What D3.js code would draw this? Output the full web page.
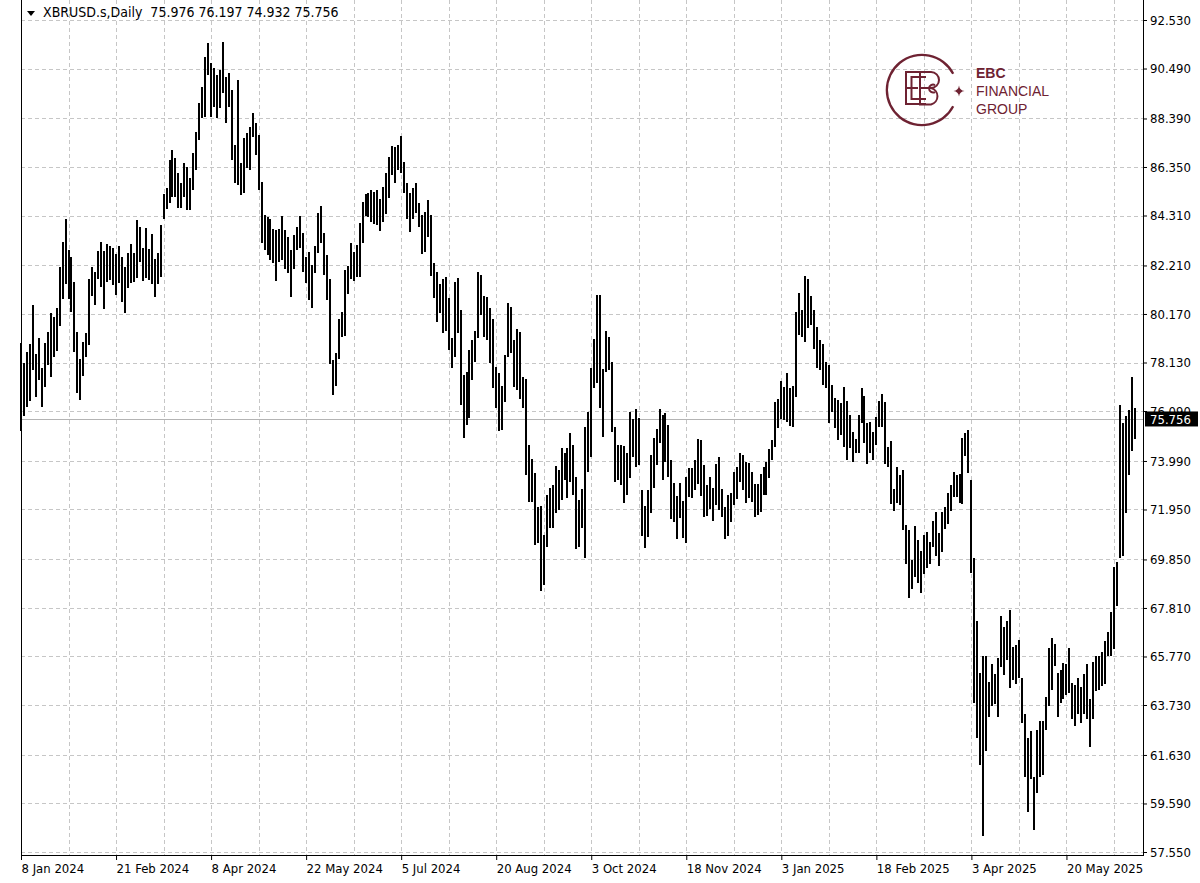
<!DOCTYPE html>
<html><head><meta charset="utf-8">
<script src="https://cdn.jsdelivr.net/npm/d3@7"></script>
<style>
html,body{margin:0;padding:0;background:#fff;}
svg{display:block;}
</style></head><body>
<svg id="chart" width="1200" height="883"></svg>
<script>
const symbolName = "XBRUSD.s,Daily";
const lastOHLC = ["75.976", "76.197", "74.932", "75.756"];
const lastClose = 75.756;

const highs = [
78.94,78.12,78.59,78.91,80.55,78.49,79.18,77.91,78.97,79.40,
80.20,80.06,80.41,82.16,83.21,84.15,82.86,82.58,81.53,79.43,
78.29,78.98,79.36,81.64,82.16,81.95,82.83,83.21,82.83,83.10,
83.03,82.96,82.69,83.03,82.58,82.16,82.72,83.10,82.72,84.12,
83.81,82.93,83.77,82.89,83.52,82.47,82.72,83.90,85.20,85.45,
86.64,87.07,86.71,86.08,85.66,86.50,86.36,85.87,86.93,87.84,
89.06,89.73,90.99,91.55,90.71,90.50,90.22,90.43,91.62,90.15,
90.29,89.59,87.28,90.01,86.50,87.56,87.77,88.05,88.63,88.19,
87.70,85.73,84.33,84.26,84.15,83.73,83.70,83.73,84.29,83.70,
83.39,82.86,83.49,83.81,84.30,83.59,82.55,82.79,82.23,83.03,
84.43,84.71,83.59,82.65,81.64,78.24,78.54,79.97,80.27,82.02,
82.19,83.14,82.79,83.07,84.01,84.89,85.22,85.27,85.38,85.31,
85.38,85.00,85.50,86.09,86.76,87.23,87.20,87.27,87.65,86.57,
85.66,85.24,85.45,85.69,84.85,84.33,84.47,84.96,84.33,82.30,
81.95,81.43,81.63,81.71,80.83,79.15,81.53,81.70,80.34,77.61,
77.75,78.66,79.08,79.47,81.95,81.81,80.94,80.90,80.41,79.95,
77.96,77.68,77.16,78.45,80.62,80.48,79.08,79.54,79.43,77.54,
77.43,74.67,74.06,73.47,72.07,72.10,70.88,72.56,72.84,72.98,
73.78,73.61,74.55,74.31,74.52,75.15,74.67,73.30,72.35,72.80,
75.43,76.06,77.89,79.10,80.97,80.97,77.84,79.47,79.22,78.17,
75.43,74.66,74.66,74.62,74.31,76.06,75.74,76.16,75.78,72.77,
72.10,72.77,74.24,74.94,75.32,76.16,75.92,75.99,75.50,74.03,
73.05,72.52,73.05,72.32,73.30,73.68,73.68,74.03,74.91,74.87,
73.82,72.98,73.30,72.84,73.86,74.17,72.80,72.07,72.56,72.63,
73.54,73.75,74.34,74.24,73.96,73.92,73.54,73.02,73.02,73.44,
73.75,73.96,74.48,74.87,76.48,76.58,77.37,77.09,77.68,77.04,
77.14,80.27,81.04,80.34,81.78,81.64,80.93,80.34,79.64,79.08,
78.91,78.17,78.03,77.19,76.62,76.55,76.41,77.12,76.53,75.92,
75.22,74.90,75.92,77.04,76.72,75.59,75.62,75.20,75.82,76.52,
76.80,76.45,74.58,74.81,72.82,73.72,73.41,73.60,71.31,71.07,
69.83,71.26,70.68,70.22,70.89,71.00,70.58,71.46,71.85,70.95,
71.85,72.04,72.66,72.97,73.53,73.38,73.44,74.97,75.15,75.28,
73.18,69.91,67.26,65.08,65.78,65.81,64.69,65.47,65.03,65.70,
67.46,67.03,67.26,67.73,66.17,66.25,66.48,64.85,63.37,62.35,
62.63,60.72,62.70,63.06,63.06,64.07,66.12,66.56,66.28,65.08,
65.19,65.50,65.47,66.12,64.66,64.57,64.88,64.50,65.03,65.44,
63.99,65.55,65.78,65.81,65.97,66.43,66.79,67.62,69.55,69.75,
76.34,75.59,75.90,76.13,77.54,76.197
];

const lows = [
75.23,75.88,76.27,76.51,77.82,76.70,77.40,76.27,77.09,78.03,
77.54,78.38,78.63,79.68,80.79,81.43,80.80,80.27,78.59,76.84,
76.56,77.58,78.38,78.87,80.94,80.55,81.64,81.32,80.37,81.53,
81.60,81.39,80.97,81.46,80.69,80.20,81.25,81.46,81.53,81.67,
82.37,81.56,81.67,81.60,81.43,80.87,81.43,81.74,84.15,84.60,
84.82,85.10,85.10,84.61,84.61,85.10,84.54,84.54,85.38,86.22,
87.49,88.40,88.47,90.22,88.47,88.89,88.40,88.82,89.45,88.19,
88.89,86.64,85.66,85.59,85.17,85.24,86.29,86.22,87.63,86.86,
85.38,83.14,82.86,82.65,82.44,82.30,81.57,82.37,82.44,82.05,
81.88,80.90,82.05,82.86,82.93,81.92,81.46,80.76,80.44,81.88,
82.75,83.14,81.81,80.76,78.05,76.77,77.14,78.27,79.19,79.25,
81.01,81.63,81.57,81.71,81.74,83.17,84.29,84.26,84.05,83.95,
83.91,83.67,84.05,84.37,85.03,86.01,85.66,86.22,86.09,85.24,
84.15,83.63,84.15,84.40,83.84,82.69,82.79,83.42,81.77,80.83,
79.82,80.20,79.36,79.47,78.66,77.89,78.38,79.36,76.35,74.94,
75.50,75.79,77.40,78.17,79.15,80.13,79.22,79.08,78.10,77.05,
76.21,75.23,75.30,76.45,78.38,78.52,77.12,76.98,76.59,76.21,
73.41,72.28,72.28,70.46,70.53,68.54,68.78,70.36,71.16,71.16,
71.79,71.93,72.35,73.19,72.42,73.12,72.56,70.29,70.39,71.16,
69.90,73.54,74.17,77.04,77.26,76.20,75.01,77.75,77.82,75.22,
73.12,73.19,72.98,72.21,72.56,73.26,74.17,73.72,73.82,70.84,
70.32,70.81,71.79,72.84,73.82,74.76,73.19,73.96,73.33,71.54,
71.44,70.70,71.58,70.74,70.53,72.46,72.42,72.77,73.02,72.52,
71.65,71.68,71.96,71.48,72.14,71.93,71.65,70.73,70.84,71.44,
72.14,72.38,73.12,72.77,72.24,72.42,72.28,71.65,71.72,71.86,
72.56,72.56,73.26,74.03,74.59,75.36,75.74,75.71,75.64,75.46,
75.43,76.69,79.29,79.19,79.01,79.57,79.71,78.68,77.89,77.82,
77.19,77.04,75.57,76.06,75.36,74.87,75.08,74.59,74.03,74.52,
73.96,74.31,74.31,75.57,74.76,73.88,74.34,74.03,74.65,75.43,
75.43,73.88,73.75,72.19,71.88,72.24,72.16,71.07,69.64,68.24,
68.61,69.13,68.86,68.43,69.24,69.49,69.64,70.37,69.98,69.59,
70.17,71.11,71.35,71.88,72.48,72.48,72.24,72.19,74.22,73.49,
69.28,63.83,62.35,61.19,58.23,61.81,63.21,63.68,63.76,63.21,
65.31,65.00,65.62,64.46,64.77,64.61,64.85,62.98,60.72,59.24,
60.64,58.46,60.02,60.72,60.80,62.67,63.68,64.38,65.39,63.21,
63.83,63.99,64.15,64.22,63.13,62.85,63.37,62.98,63.37,63.13,
61.96,63.13,64.30,64.38,64.53,64.61,65.78,65.81,66.09,67.88,
69.91,69.98,71.82,73.38,74.42,74.932
];

const yTicks = [92.53, 90.49, 88.39, 86.35, 84.31, 82.21, 80.17, 78.13, 76.09, 73.99,
                71.95, 69.85, 67.81, 65.77, 63.73, 61.63, 59.59, 57.55];
const xLabels = ["8 Jan 2024", "21 Feb 2024", "8 Apr 2024", "22 May 2024", "5 Jul 2024",
                 "20 Aug 2024", "3 Oct 2024", "18 Nov 2024", "3 Jan 2025", "18 Feb 2025",
                 "3 Apr 2025", "20 May 2025"];
const xLabelBars = [0, 32, 64, 96, 128, 160, 192, 224, 256, 288, 320, 352];
const logoLines = ["EBC", "FINANCIAL", "GROUP"];

const FONT = "'DejaVu Sans Condensed','DejaVu Sans',sans-serif";
const svg = d3.select("#chart");
const plotL = 21, plotR = 1143, plotT = 0, plotB = 855;
const n = highs.length;
const x = d3.scaleLinear().domain([0, n - 1]).range([21, 21 + (n - 1) * 2.97]);
const y = d3.scaleLinear().domain([57.55, 92.53]).range([852, 20]);
const py = y(lastClose);

// grid
const grid = svg.append("g").attr("shape-rendering", "crispEdges");
grid.selectAll("line.h").data(yTicks).join("line").attr("class", "h")
  .attr("x1", plotL).attr("x2", plotR)
  .attr("y1", d => Math.round(y(d)) + 0.5).attr("y2", d => Math.round(y(d)) + 0.5)
  .attr("stroke", "#c6c6c6").attr("stroke-dasharray", "4,3");
grid.selectAll("line.v").data(d3.range(16, n, 16)).join("line").attr("class", "v")
  .attr("x1", d => Math.round(x(d)) + 0.5).attr("x2", d => Math.round(x(d)) + 0.5)
  .attr("y1", plotT).attr("y2", plotB)
  .attr("stroke", "#c6c6c6").attr("stroke-dasharray", "4,3");

// current price line
svg.append("line").attr("shape-rendering", "crispEdges")
  .attr("x1", plotL).attr("x2", plotR)
  .attr("y1", Math.round(py) + 0.5).attr("y2", Math.round(py) + 0.5)
  .attr("stroke", "#b4b4b4");

// logo
const logo = svg.append("g").attr("fill", "none").attr("stroke", "#6e2232");
const arc = d3.arc();
logo.append("path").attr("transform", "translate(922,90)").attr("fill", "#6e2232").attr("stroke", "none")
  .attr("d", arc({innerRadius: 34, outerRadius: 36.3, startAngle: Math.PI / 2 + 0.48, endAngle: Math.PI / 2 - 0.48 + 2 * Math.PI}));
logo.append("path").attr("stroke-width", 2)
  .attr("d", "M926,72 H906 V104 H926 M926,77 H911.5 V99 H926 M906,88 H918");
logo.append("path").attr("stroke-width", 2)
  .attr("d", "M920,72 H931 A8,8 0 0 1 931,88 A8.5,8.5 0 0 1 931,104.5 H920 Z M920,88 H931 M935,85 A4,4 0 1 0 935,92");
logo.append("path").attr("fill", "#6e2232").attr("stroke", "none")
  .attr("d", "M959,85.5 Q959.6,90.4 964.5,91 Q959.6,91.6 959,96.5 Q958.4,91.6 953.5,91 Q958.4,90.4 959,85.5 Z");
logo.selectAll("text").data(logoLines).join("text")
  .attr("x", 976).attr("y", (d, i) => 78 + i * 18)
  .attr("fill", "#6e2232").attr("stroke", "none")
  .attr("font-family", "'Liberation Sans',Arial,sans-serif")
  .attr("font-size", 14)
  .attr("font-weight", (d, i) => i === 0 ? "bold" : "normal")
  .text(d => d);

// bars
svg.append("g").attr("shape-rendering", "crispEdges")
  .selectAll("rect").data(d3.range(n)).join("rect")
  .attr("x", i => Math.round(x(i)) - 1)
  .attr("width", 2)
  .attr("y", i => y(highs[i]))
  .attr("height", i => Math.max(1, y(lows[i]) - y(highs[i])))
  .attr("fill", "#000");

// frame
const frame = svg.append("g").attr("stroke", "#000").attr("shape-rendering", "crispEdges");
frame.append("line").attr("x1", plotL + 0.5).attr("x2", plotL + 0.5).attr("y1", plotT).attr("y2", plotB + 1);
frame.append("line").attr("x1", plotR + 0.5).attr("x2", plotR + 0.5).attr("y1", plotT).attr("y2", plotB + 1);
frame.append("line").attr("x1", plotL).attr("x2", plotR + 1).attr("y1", plotB + 0.5).attr("y2", plotB + 0.5);

// clip: the price tag hides the lower part of the label behind it
svg.append("defs").append("clipPath").attr("id", "tagclip")
  .append("path").attr("d", `M1143,0 H1200 V${py - 7.5} H1143 Z M1143,${py + 7.5} H1200 V883 H1143 Z M1143,0 H1145 V883 H1143 Z`);

// y axis
const yAxis = d3.axisRight(y).tickValues(yTicks).tickFormat(d3.format(".3f")).tickSize(4).tickPadding(3);
const gy = svg.append("g").attr("transform", `translate(${plotR},0)`).call(yAxis);
gy.select(".domain").remove();
gy.attr("font-family", FONT).attr("font-size", 13);
gy.selectAll("text").attr("fill", "#000");
gy.selectAll(".tick").filter(d => Math.abs(y(d) - py) < 12)
  .select("text").attr("clip-path", null)
  .each(function () {
    const t = d3.select(this);
    const tickY = y(t.datum());
    // clip to the part above the price tag (coords local to the tick)
    const id = "clipTick";
    svg.select("defs").append("clipPath").attr("id", id)
      .append("rect").attr("x", -10).attr("y", -20).attr("width", 80).attr("height", (py - 7.5) - tickY + 20);
    t.attr("clip-path", `url(#${id})`);
  });

// x axis
const xAxis = d3.axisBottom(x).tickValues(xLabelBars).tickFormat((d, i) => xLabels[i]).tickSize(5).tickPadding(4);
const gx = svg.append("g").attr("transform", `translate(0,${plotB})`).call(xAxis);
gx.select(".domain").remove();
gx.attr("font-family", FONT).attr("font-size", 13);
gx.selectAll("text").attr("text-anchor", "start").attr("x", 0).attr("fill", "#000");

// price tag
svg.append("rect").attr("x", 1145).attr("y", py - 7.5).attr("width", 53).attr("height", 15).attr("fill", "#000");
svg.append("text").attr("x", 1150).attr("y", py).attr("dy", "0.35em")
  .attr("font-family", FONT).attr("font-size", 13).attr("fill", "#fff").text(d3.format(".3f")(lastClose));

// header
svg.append("path").attr("d", "M27,11 L35,11 L31,16 Z").attr("fill", "#000");
svg.append("text").attr("x", 43).attr("y", 17).style("white-space", "pre")
  .attr("font-family", FONT).attr("font-size", 14).attr("fill", "#000")
  .text(symbolName + "  " + lastOHLC.join(" "));
</script>
</body></html>
